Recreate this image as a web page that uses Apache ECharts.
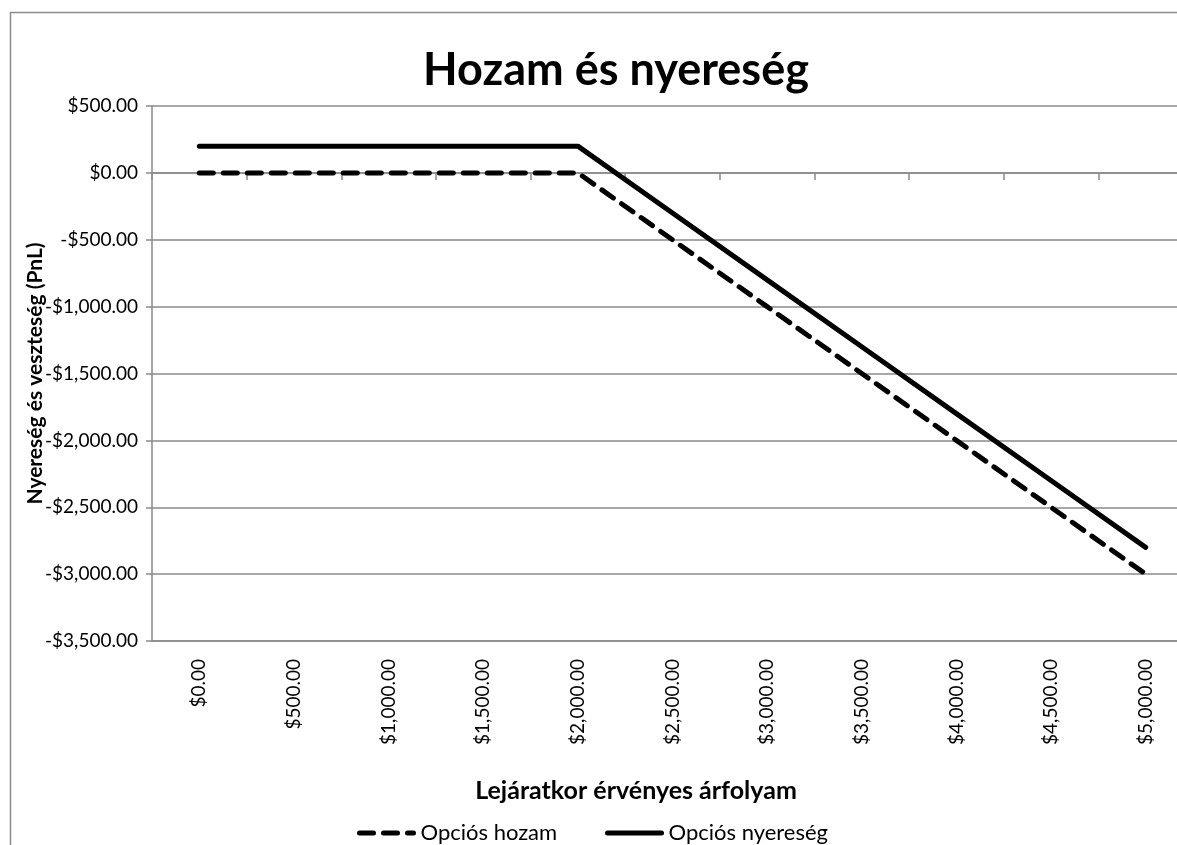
<!DOCTYPE html>
<html>
<head>
<meta charset="utf-8">
<title>Hozam és nyereség</title>
<script src="https://cdn.jsdelivr.net/npm/echarts@6.0.0/dist/echarts.min.js"></script>
<style>
  html, body { margin:0; padding:0; background:#fff; overflow:hidden; }
  #chart { width:1177px; height:845px; }
</style>
</head>
<body>
<div id="chart"></div>
<script>
// adatok
const arfolyam = ['$0.00','$500.00','$1,000.00','$1,500.00','$2,000.00','$2,500.00',
                  '$3,000.00','$3,500.00','$4,000.00','$4,500.00','$5,000.00'];
const opciosHozam    = [0, 0, 0, 0, 0, -500, -1000, -1500, -2000, -2500, -3000];
const opciosNyereseg = [200, 200, 200, 200, 200, -300, -800, -1300, -1800, -2300, -2800];
const yMin = -3500, yMax = 500, yStep = 500;

const FONT = 'Lato, "Open Sans", sans-serif';
const GRAY = '#8a8a8a';

function fmtUsd(v){
  const s = Math.abs(v).toLocaleString('en-US', { minimumFractionDigits:2, maximumFractionDigits:2 });
  return (v < 0 ? '-$' : '$') + s;
}

const chart = echarts.init(document.getElementById('chart'));

// közös legend beállítás: vastag vonal, pont nélkül
const legendBase = {
  top: 817, itemWidth: 54, itemHeight: 14, itemGap: 0,
  textStyle: { fontFamily: FONT, fontSize: 22, color: '#000', padding: [0, 0, 0, 2] },
  itemStyle: { opacity: 0 },
  lineStyle: { width: 5, cap: 'round' }
};

chart.setOption({
  animation: false,
  backgroundColor: '#fff',
  textStyle: { fontFamily: FONT, color: '#000' },
  title: [
    { text: 'Hozam és nyereség', left: 611, top: 43, textAlign: 'center',
      textStyle: { fontFamily: FONT, fontSize: 45, fontWeight: 'bold', color: '#000' } },
    { text: 'Lejáratkor érvényes árfolyam', left: 631, top: 773, textAlign: 'center',
      textStyle: { fontFamily: FONT, fontSize: 25, fontWeight: 'bold', color: '#000' } }
  ],
  graphic: [{
    type: 'rect', silent: true, z: -1,
    shape: { x: 10.5, y: 12.5, width: 1300, height: 900 },
    style: { fill: null, stroke: GRAY, lineWidth: 1.5 }
  }],
  legend: [
    Object.assign({ left: 352, data: ['Opciós hozam'] }, legendBase),
    Object.assign({ left: 600, data: ['Opciós nyereség'] }, legendBase)
  ],
  grid: { left: 152, top: 106, width: 1041, height: 535, outerBoundsMode: 'none', containLabel: false },
  xAxis: [
    {
      type: 'category', data: arfolyam, boundaryGap: true, position: 'bottom',
      axisLine: { onZero: false, lineStyle: { color: GRAY, width: 1.5 } },
      axisTick: { show: false },
      axisLabel: { rotate: 90, margin: 18, fontSize: 19, color: '#000', fontFamily: FONT, interval: 0 },
      splitLine: { show: false }
    },
    {
      type: 'category', data: arfolyam, boundaryGap: true, position: 'bottom',
      axisLine: { onZero: true, lineStyle: { color: GRAY, width: 1.5 } },
      axisTick: { show: true, length: 7, interval: 0, lineStyle: { color: GRAY, width: 1.5 } },
      axisLabel: { show: false },
      splitLine: { show: false }
    }
  ],
  yAxis: {
    type: 'value', min: yMin, max: yMax, interval: yStep,
    name: 'Nyereség és veszteség (PnL)', nameLocation: 'middle', nameGap: 106, nameRotate: 90,
    nameMoveOverlap: false,
    nameTextStyle: { fontFamily: FONT, fontSize: 21, fontWeight: 'bold', color: '#000',
                     backgroundColor: '#fff', padding: [0, 5, 0, 5] },
    axisLine: { show: true, lineStyle: { color: GRAY, width: 1.5 } },
    axisTick: { show: true, length: 6, lineStyle: { color: GRAY, width: 1.5 } },
    axisLabel: { formatter: fmtUsd, margin: 14, fontSize: 19, color: '#000', fontFamily: FONT },
    splitLine: { show: true, lineStyle: { color: GRAY, width: 1.5 } }
  },
  series: [
    {
      name: 'Opciós hozam', type: 'line', data: opciosHozam, xAxisIndex: 0,
      symbol: 'none', z: 3,
      lineStyle: { color: '#000', width: 5, type: [14, 10], cap: 'round' },
      itemStyle: { color: '#000' }
    },
    {
      name: 'Opciós nyereség', type: 'line', data: opciosNyereseg, xAxisIndex: 0,
      symbol: 'none', z: 3,
      lineStyle: { color: '#000', width: 5, type: 'solid', cap: 'round' },
      itemStyle: { color: '#000' }
    }
  ]
});
</script>
</body>
</html>
